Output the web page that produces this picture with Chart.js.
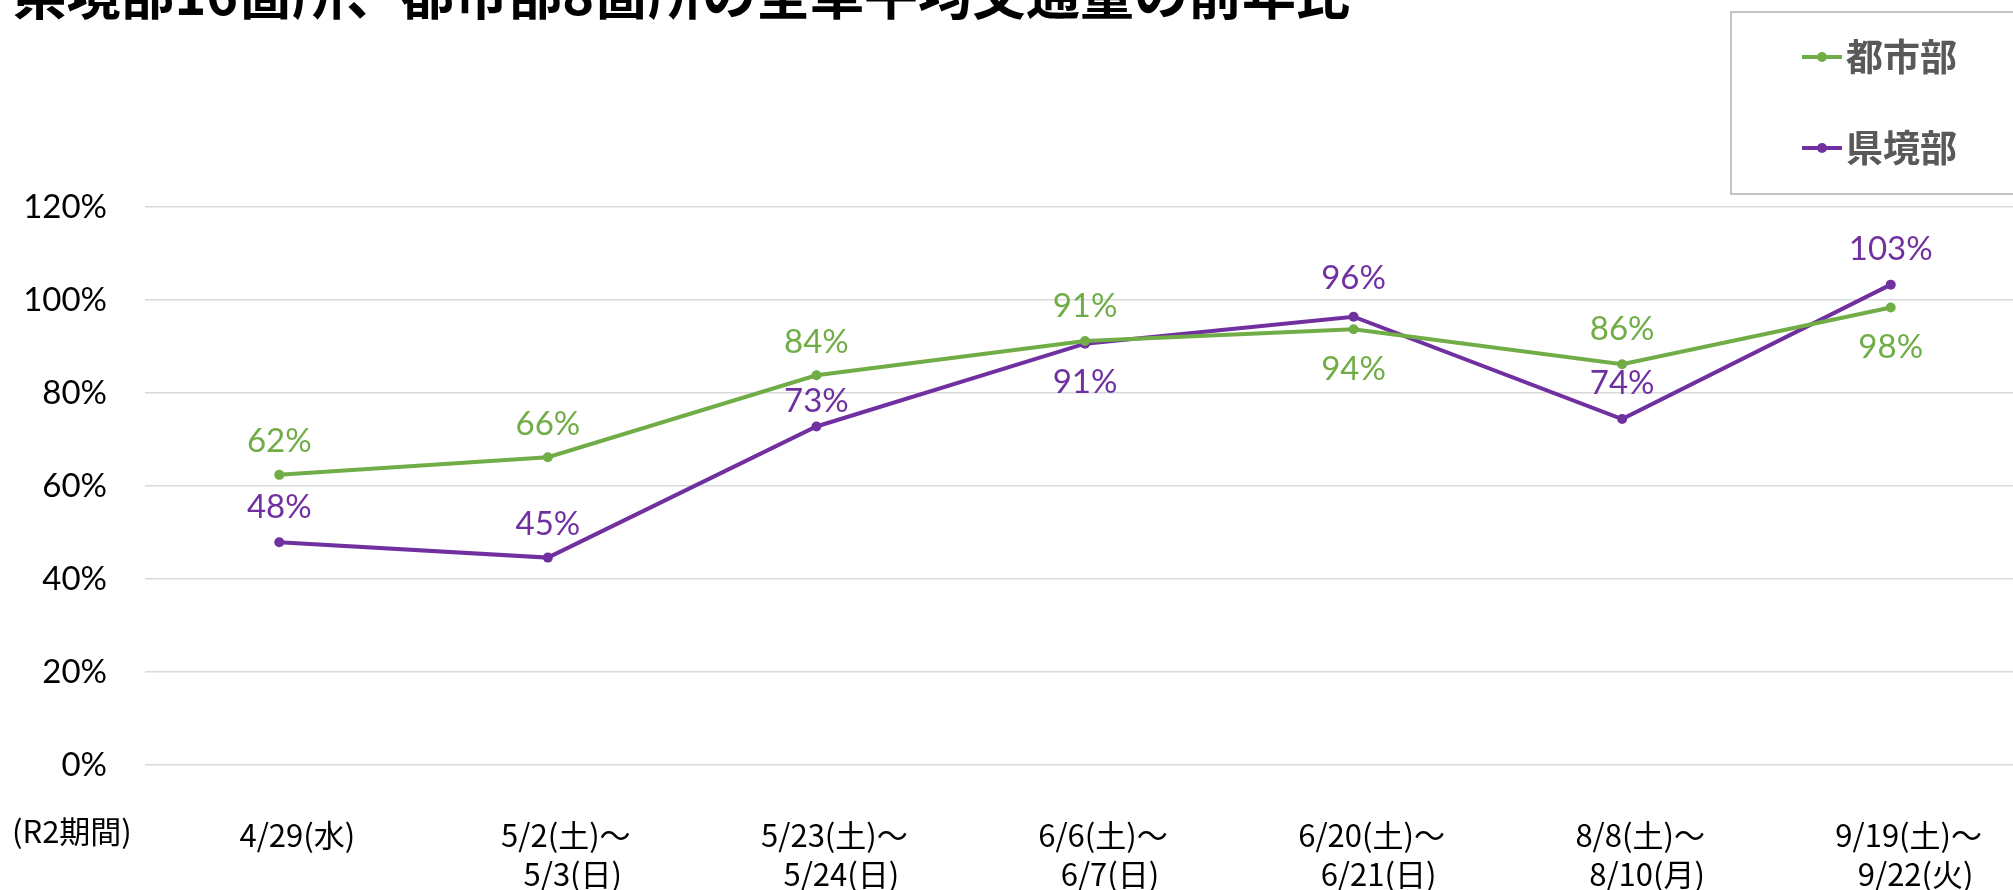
<!DOCTYPE html>
<html>
<head>
<meta charset="utf-8">
<script src="https://cdn.jsdelivr.net/npm/chart.js@4"></script>
<style>
  body { margin: 0; overflow: hidden; background: #fff; }
  #wrap { position: absolute; left: 0; top: 0; width: 2030px; height: 890px; }
</style>
</head>
<body>
<div id="wrap"><canvas id="c"></canvas></div>
<script>
const titleText = "県境部16箇所、都市部8箇所の全車平均交通量の前年比";
const periodLabel = "(R2期間)";
const categories = [
  ["4/29(水)"],
  ["5/2(土)～", "  5/3(日)"],
  ["5/23(土)～", "  5/24(日)"],
  ["6/6(土)～", "  6/7(日)"],
  ["6/20(土)～", "  6/21(日)"],
  ["8/8(土)～", "  8/10(月)"],
  ["9/19(土)～", "  9/22(火)"]
];
const seriesNames = ["都市部", "県境部"];
const cityValues = [62.4, 66.2, 83.8, 91.2, 93.7, 86.2, 98.4];
const borderValues = [47.9, 44.6, 72.8, 90.6, 96.4, 74.4, 103.3];
const yTicks = [0, 20, 40, 60, 80, 100, 120];

const green = "#70AD47";
const purple = "#7030A0";

// label offsets from the point (negative = above)
const labelDy = [
  [-33, -33, -33, -35, 40, -35, 40],
  [-35, -33, -25, 39, -38, -36, -35]
];

const extras = {
  id: "extras",
  afterDatasetsDraw(chart) {
    const ctx = chart.ctx;
    ctx.save();
    // data labels
    chart.data.datasets.forEach((ds, di) => {
      const meta = chart.getDatasetMeta(di);
      ctx.font = "33px Lato";
      ctx.fillStyle = ds.borderColor;
      ctx.textAlign = "center";
      ctx.textBaseline = "middle";
      meta.data.forEach((pt, i) => {
        ctx.fillText(Math.round(ds.data[i]) + "%", pt.x, pt.y + labelDy[di][i]);
      });
    });
    // title (cut off at top like the source)
    ctx.font = "bold 54px 'Noto Sans CJK JP'";
    ctx.fillStyle = "#000";
    ctx.textAlign = "right";
    ctx.textBaseline = "alphabetic";
    ctx.fillText(titleText, 1350, 15);
    // period label
    const xs = chart.scales.x;
    ctx.font = "31px 'Noto Sans CJK JP'";
    ctx.textAlign = "left";
    ctx.textBaseline = "top";
    ctx.fillText(periodLabel, 12, xs.top + 51);
    // legend box
    ctx.strokeStyle = "#b0b0b0";
    ctx.lineWidth = 1.5;
    ctx.strokeRect(1731, 12, 320, 182);
    const rows = [57, 148];
    chart.data.datasets.forEach((ds, di) => {
      const y = rows[di];
      ctx.strokeStyle = ds.borderColor;
      ctx.lineWidth = 4;
      ctx.beginPath();
      ctx.moveTo(1802, y);
      ctx.lineTo(1842, y);
      ctx.stroke();
      ctx.fillStyle = ds.borderColor;
      ctx.beginPath();
      ctx.arc(1822, y, 5, 0, Math.PI * 2);
      ctx.fill();
      ctx.fillStyle = "#595959";
      ctx.font = "bold 37px 'Noto Sans CJK JP'";
      ctx.textBaseline = "middle";
      ctx.fillText(ds.label, 1846, y);
    });
    ctx.restore();
  }
};

new Chart(document.getElementById("c"), {
  type: "line",
  data: {
    labels: categories,
    datasets: [
      {
        label: seriesNames[0],
        data: cityValues,
        borderColor: green,
        backgroundColor: green,
        borderWidth: 4,
        pointRadius: 5,
        pointBackgroundColor: green,
        pointBorderWidth: 0,
        tension: 0
      },
      {
        label: seriesNames[1],
        data: borderValues,
        borderColor: purple,
        backgroundColor: purple,
        borderWidth: 4,
        pointRadius: 5,
        pointBackgroundColor: purple,
        pointBorderWidth: 0,
        tension: 0
      }
    ]
  },
  options: {
    responsive: true,
    maintainAspectRatio: false,
    animation: false,
    layout: { padding: { top: 207, right: 0, bottom: 0, left: 0 } },
    plugins: {
      legend: { display: false },
      title: { display: false },
      tooltip: { enabled: false }
    },
    scales: {
      x: {
        offset: true,
        grid: { display: false, drawTicks: false },
        border: { display: false },
        afterFit: (axis) => { axis.height = 125; },
        ticks: {
          color: "#000",
          font: { family: "'Noto Sans CJK JP'", size: 31, lineHeight: 1.25 },
          padding: 51,
          labelOffset: 18,
          maxRotation: 0,
          autoSkip: false
        }
      },
      y: {
        min: 0,
        max: 120,
        afterFit: (axis) => { axis.width = 145; },
        afterBuildTicks: (axis) => { axis.ticks = yTicks.map((v) => ({ value: v })); },
        grid: { color: "#d9d9d9", lineWidth: 1.5, drawTicks: false },
        border: { display: false },
        ticks: {
          color: "#000",
          font: { family: "Lato", size: 33 },
          padding: 38,
          callback: (v) => v + "%"
        }
      }
    }
  },
  plugins: [extras]
});
</script>
</body>
</html>
